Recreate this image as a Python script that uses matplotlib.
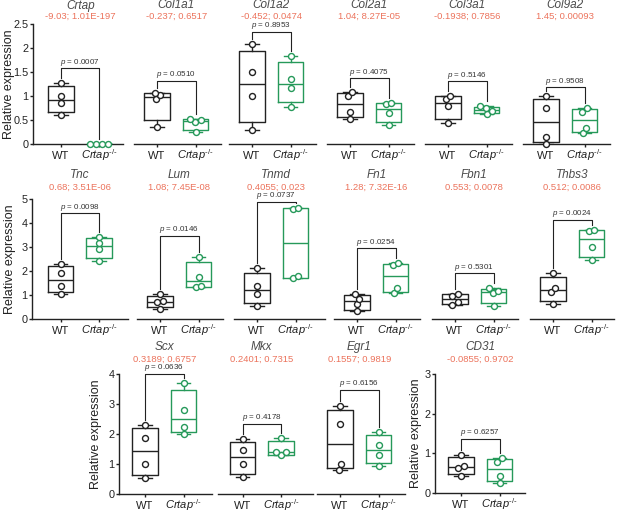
import numpy as np
import matplotlib
matplotlib.use('Agg')
import matplotlib.pyplot as plt

plt.rcParams['font.family'] = ['Liberation Sans', 'DejaVu Sans']
plt.rcParams['mathtext.fontset'] = 'custom'
plt.rcParams['mathtext.rm'] = 'Liberation Sans'
plt.rcParams['mathtext.it'] = 'Liberation Sans:italic'

# ─────────────────────────────────────────────
# DATA
# ─────────────────────────────────────────────
genes = ['Crtap', 'Col1a1', 'Col1a2', 'Col2a1', 'Col3a1', 'Col9a2',
         'Tnc', 'Lum', 'Tnmd', 'Fn1', 'Fbn1', 'Thbs3',
         'Scx', 'Mkx', 'Egr1', 'CD31']

fold_stats = ['-9.03; 1.01E-197', '-0.237; 0.6517', '-0.452; 0.0474',
              '1.04; 8.27E-05', '-0.1938; 0.7856', '1.45; 0.00093',
              '0.68; 3.51E-06', '1.08; 7.45E-08', '0.4055; 0.023',
              '1.28; 7.32E-16', '0.553; 0.0078', '0.512; 0.0086',
              '0.3189; 0.6757', '0.2401; 0.7315', '0.1557; 0.9819',
              '-0.0855; 0.9702']

p_values = ['0.0007', '0.0510', '0.8953', '0.4075', '0.5146', '0.9508',
            '0.0098', '0.0146', '0.0737', '0.0254', '0.5301', '0.0024',
            '0.0636', '0.4178', '0.6156', '0.6257']

wt_values = [
    [0.60, 0.85, 1.00, 1.28],
    [0.36, 0.93, 1.02, 1.07],
    [0.29, 1.00, 1.49, 2.08],
    [0.52, 0.67, 1.01, 1.08],
    [0.44, 0.79, 0.93, 1.01],
    [0.01, 0.15, 0.76, 1.00],
    [1.04, 1.36, 1.92, 2.28],
    [0.42, 0.70, 0.75, 1.05],
    [0.55, 1.04, 1.39, 2.12],
    [0.32, 0.62, 0.85, 1.05],
    [0.60, 0.69, 0.97, 1.05],
    [0.64, 1.11, 1.29, 1.91],
    [0.53, 1.00, 1.87, 2.29],
    [0.57, 1.00, 1.48, 1.84],
    [0.81, 1.00, 2.33, 2.94],
    [0.44, 0.63, 0.69, 0.97],
]

ko_values = [
    [0.00, 0.00, 0.00, 0.00],
    [0.24, 0.46, 0.50, 0.52],
    [0.78, 1.16, 1.35, 1.83],
    [0.40, 0.64, 0.83, 0.85],
    [0.62, 0.69, 0.74, 0.79],
    [0.22, 0.33, 0.67, 0.76],
    [2.42, 2.90, 3.15, 3.43],
    [1.33, 1.38, 1.77, 2.60],
    [1.70, 1.80, 4.57, 4.64],
    [1.08, 1.29, 2.26, 2.33],
    [0.53, 1.08, 1.15, 1.29],
    [2.47, 2.99, 3.67, 3.71],
    [2.00, 2.22, 2.81, 3.70],
    [1.29, 1.39, 1.40, 1.87],
    [0.92, 1.31, 1.64, 2.06],
    [0.25, 0.42, 0.79, 0.88],
]

bracket_y = [1.58, 1.32, 2.34, 1.37, 1.31, 1.18,
             4.40, 3.46, 4.89, 2.95, 1.91, 4.13,
             4.00, 2.34, 3.48, 1.37]

group_labels = ['WT', '$\\mathit{Crtap}^{\u2010/\u2010}$']

# ─────────────────────────────────────────────
# LAYOUT (pixels on a 617x512 canvas)
# left, right, WT centre, top, bottom, ymax, ytick step, has y axis
# ─────────────────────────────────────────────
W, H = 617, 512
UNIT = 38.5          # px between WT and KO
layout = [
    (33, 123, 61, 24, 144, 2.5, 0.5, True),
    (134, 221, 157, 24, 144, 2.5, 0.5, False),
    (229, 316, 252, 24, 144, 2.5, 0.5, False),
    (327, 414, 350, 24, 144, 2.5, 0.5, False),
    (425, 512, 448, 24, 144, 2.5, 0.5, False),
    (523, 610, 546, 24, 144, 2.5, 0.5, False),
    (32, 128, 60.5, 199, 319, 5, 1, True),
    (137, 223, 160, 199, 319, 5, 1, False),
    (234, 325, 257, 199, 319, 5, 1, False),
    (334, 420, 357, 199, 319, 5, 1, False),
    (432, 518, 455, 199, 319, 5, 1, False),
    (530, 614, 553, 199, 319, 5, 1, False),
    (119, 212, 145, 374, 494, 4, 1, True),
    (218, 313, 242.5, 374, 494, 4, 1, False),
    (317, 405, 340, 374, 494, 4, 1, False),
    (435, 525, 461, 374, 493, 3, 1, True),
]
ylabel_x = {0: 9.5, 6: 10.5, 12: 96, 15: 416}
header_y = {24: 5.5, 199: 174.5, 374: 347}

BLACK = '#222222'
GREEN = '#26995a'
RED = '#ec735c'
GREY = '#4a4a4a'
DOT = 6.0            # marker diameter in px


def quartiles(v):
    v = np.sort(np.asarray(v, dtype=float))
    q1, med, q3 = np.percentile(v, [25, 50, 75], method='weibull')
    return dict(med=med, q1=q1, q3=q3, whislo=v[0], whishi=v[-1], fliers=[])


def swarm(vals, ypx):
    # simple beeswarm in pixel space, then centre each overlapping cluster
    vals = np.asarray(vals, dtype=float)
    ys = vals * ypx
    xs = np.zeros(len(vals))
    placed = []
    for i in np.argsort(vals):
        y = ys[i]
        cands = [0.0]
        for j in placed:
            dy = abs(y - ys[j])
            if dy < DOT:
                dx = np.sqrt(DOT**2 - dy**2)
                cands += [xs[j] + dx, xs[j] - dx]
        cands.sort(key=abs)
        for c in cands:
            if all((c - xs[j])**2 + (y - ys[j])**2 >= DOT**2 - 1e-6 for j in placed):
                xs[i] = c
                break
        placed.append(i)
    order = np.argsort(ys)
    cluster = [order[0]]
    for a, b in zip(order[:-1], order[1:]):
        if ys[b] - ys[a] < DOT:
            cluster.append(b)
        else:
            xs[cluster] -= xs[cluster].mean()
            cluster = [b]
    xs[cluster] -= xs[cluster].mean()
    return xs / UNIT


fig = plt.figure(figsize=(W / 100, H / 100), dpi=100)

for k, gene in enumerate(genes):
    left, right, wt, top, bottom, ymax, ystep, has_y = layout[k]
    ax = fig.add_axes([left / W, 1 - bottom / H, (right - left) / W, (bottom - top) / H])
    ax.set_xlim((left - wt) / UNIT, (right - wt) / UNIT)
    ax.set_ylim(0, ymax)
    ypx = (bottom - top) / ymax

    for pos, vals, col in [(0, wt_values[k], BLACK), (1, ko_values[k], GREEN)]:
        ax.bxp([quartiles(vals)], positions=[pos], widths=0.65, capwidths=0.34,
               showfliers=False, patch_artist=False,
               boxprops=dict(color=col, lw=1.0),
               medianprops=dict(color=col, lw=1.0),
               whiskerprops=dict(color=col, lw=1.0),
               capprops=dict(color=col, lw=1.0))
        ax.plot(pos + swarm(vals, ypx), vals, 'o', ms=4.3, mfc='white', mec=col,
                mew=1.0, clip_on=False, zorder=5)

    # significance bracket
    gap = 5.0 / ypx
    by = bracket_y[k]
    ax.plot([0, 0, 1, 1], [max(wt_values[k]) + gap, by, by, max(ko_values[k]) + gap],
            color=BLACK, lw=0.8, clip_on=False, zorder=4)
    ax.annotate(f'$p$ = {p_values[k]}', xy=(0.5, by), xytext=(0, 0.4),
                textcoords='offset points', ha='center', va='bottom',
                fontsize=5.8, color='#333333', annotation_clip=False)

    for s in ['top', 'right']:
        ax.spines[s].set_visible(False)
    ax.spines['bottom'].set_linewidth(1.0)
    ax.spines['bottom'].set_color(BLACK)
    ax.set_xticks([0, 1])
    ax.tick_params(axis='x', length=2.5, width=1.0, pad=8.3, labelsize=8,
                   colors=BLACK)
    ax.set_xticklabels(group_labels, va='baseline')
    if has_y:
        ax.spines['left'].set_linewidth(1.0)
        ax.spines['left'].set_color(BLACK)
        ax.spines['left'].set_bounds(0, ymax)
        ticks = np.arange(0, ymax + 1e-9, ystep)
        ax.set_yticks(ticks)
        ax.set_yticklabels([f'{t:g}' for t in ticks])
        ax.tick_params(axis='y', length=2.4, width=1.0, pad=0.8, labelsize=7.8,
                       colors=BLACK)
        fig.text(ylabel_x[k] / W, 1 - (top + bottom) / 2 / H, 'Relative expression',
                 rotation=90, ha='center', va='center', fontsize=9, color=BLACK)
    else:
        ax.spines['left'].set_visible(False)
        ax.set_yticks([])

    # gene name and stats header
    cx = (wt + UNIT / 2) / W
    gy = header_y[top]
    fig.text(cx, 1 - gy / H, gene, ha='center', va='center', fontsize=8.5,
             style='italic', color=GREY)
    fig.text(cx, 1 - (gy + (11 if top == 24 else 12.5)) / H, fold_stats[k],
             ha='center', va='center', fontsize=6.8, color=RED)

fig.savefig('out.png', dpi=100)
